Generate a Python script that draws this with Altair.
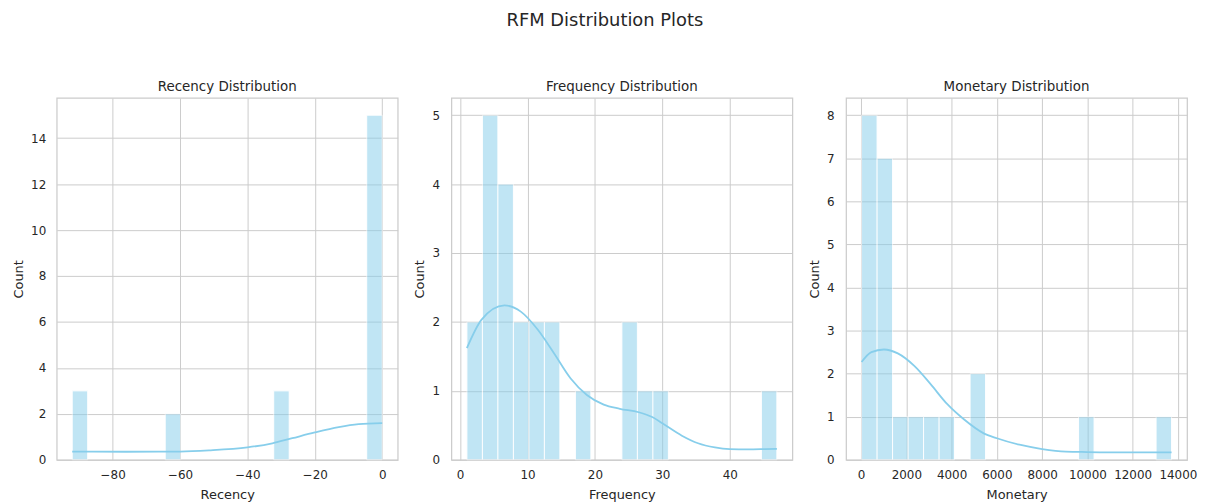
import altair as alt
import pandas as pd

# ---------------- data ----------------
# Histogram bins (20 bins each): first edge, bin width, counts
rec_start, rec_width = -92.0, 4.6
rec_counts = [3, 0, 0, 0, 0, 0, 2, 0, 0, 0, 0, 0, 0, 3, 0, 0, 0, 0, 0, 15]

freq_start, freq_width = 1.0, 2.3
freq_counts = [2, 5, 4, 2, 2, 2, 0, 1, 0, 0, 2, 1, 1, 0, 0, 0, 0, 0, 0, 1]

mon_start, mon_width = 20.0, 685.0
mon_counts = [8, 7, 1, 1, 1, 1, 0, 2, 0, 0, 0, 0, 0, 0, 1, 0, 0, 0, 0, 1]

# KDE curves (scaled to counts), read point by point
rec_kde_x = [-92, -76, -60, -51.4, -40, -32.6, -26.7, -20, -12.9, -7, 0]
rec_kde_y = [0.36, 0.35, 0.36, 0.41, 0.54, 0.72, 0.94, 1.19, 1.42, 1.55, 1.60]

freq_kde_x = [1.0, 3.15, 6.57, 9.0, 11.5, 13.9, 16.4, 18.8, 21.3, 23.7, 26.5,
              28.5, 30.0, 32.9, 35.3, 37.8, 40.0, 42.7, 45.2, 47.0]
freq_kde_y = [1.62, 2.03, 2.24, 2.15, 1.89, 1.55, 1.18, 0.94, 0.80, 0.74, 0.69,
              0.62, 0.53, 0.35, 0.24, 0.18, 0.155, 0.15, 0.155, 0.16]

mon_kde_x = [20, 455, 1007, 1620, 2350, 3080, 3810, 4540, 5400, 6000, 7000,
             8000, 9050, 10000, 12000, 13720]
mon_kde_y = [2.27, 2.50, 2.56, 2.47, 2.18, 1.75, 1.29, 0.94, 0.62, 0.50, 0.35,
             0.25, 0.19, 0.18, 0.17, 0.17]

# Axis ticks
rec_xticks = [-80, -60, -40, -20, 0]
freq_xticks = [0, 10, 20, 30, 40]
mon_xticks = [0, 2000, 4000, 6000, 8000, 10000, 12000, 14000]
rec_yticks = [0, 2, 4, 6, 8, 10, 12, 14]
freq_yticks = [0, 1, 2, 3, 4, 5]
mon_yticks = [0, 1, 2, 3, 4, 5, 6, 7, 8]

SKY = "#87CEEB"
TXT = "#262626"
GRID = "#cccccc"
FONT = "DejaVu Sans"


def hist_df(start, width, counts):
    rows = []
    for i, c in enumerate(counts):
        if c > 0:
            rows.append({"lo": start + i * width, "hi": start + (i + 1) * width, "count": c})
    return pd.DataFrame(rows)


def padded(lo, hi):
    pad = (hi - lo) * 0.05
    return [lo - pad, hi + pad]


def panel(hist, kx, ky, title, xlabel, xdomain, xticks, ymax, yticks, yext, ylabpad):
    kde = pd.DataFrame({"x": kx, "y": ky})
    xs = alt.Scale(domain=xdomain, nice=False, zero=False)
    ys = alt.Scale(domain=[0, ymax * 1.05], nice=False)
    xa = alt.Axis(values=xticks, title=xlabel, format="d")
    ya = alt.Axis(values=yticks, title="Count", format="d", minExtent=yext,
                  maxExtent=yext, labelPadding=ylabpad)
    bars = alt.Chart(hist).mark_bar(
        color=SKY, opacity=0.52, stroke="white", strokeWidth=1, strokeOpacity=1
    ).encode(
        x=alt.X("lo:Q", scale=xs, axis=xa),
        x2="hi:Q",
        y=alt.Y("count:Q", scale=ys, axis=ya),
        y2=alt.datum(0),
    )
    line = alt.Chart(kde).mark_line(color=SKY, strokeWidth=1.8, interpolate="monotone").encode(
        x=alt.X("x:Q", scale=xs, axis=xa),
        y=alt.Y("y:Q", scale=ys, axis=ya),
    )
    return alt.layer(bars, line).properties(
        width=343, height=364,
        title=alt.TitleParams(title, fontSize=13.5, offset=4, font=FONT,
                              fontWeight="normal", color=TXT),
    )


p1 = panel(hist_df(rec_start, rec_width, rec_counts), rec_kde_x, rec_kde_y,
           "Recency Distribution", "Recency",
           padded(rec_start, rec_start + 20 * rec_width), rec_xticks, 15, rec_yticks, 26, 11)
p2 = panel(hist_df(freq_start, freq_width, freq_counts), freq_kde_x, freq_kde_y,
           "Frequency Distribution", "Frequency",
           padded(freq_start, freq_start + 20 * freq_width), freq_xticks, 5, freq_yticks, 20, 12)
p3 = panel(hist_df(mon_start, mon_width, mon_counts), mon_kde_x, mon_kde_y,
           "Monetary Distribution", "Monetary",
           padded(mon_start, mon_start + 20 * mon_width), mon_xticks, 8, mon_yticks, 20, 12)

chart = alt.hconcat(p1, p2, p3, spacing=14).properties(
    title=alt.TitleParams("RFM Distribution Plots", fontSize=18, font=FONT,
                          fontWeight="normal", color=TXT, anchor="middle", offset=50),
    padding={"left": 4, "top": 2, "right": 0, "bottom": 0},
).configure_axis(
    labelFont=FONT, titleFont=FONT, labelFontSize=12, titleFontSize=13,
    labelColor=TXT, titleColor=TXT, titleFontWeight="normal",
    tickSize=0, domain=False, grid=True, gridColor=GRID, gridWidth=1,
).configure_axisY(titlePadding=5).configure_axisX(titlePadding=8, labelPadding=10).configure_view(
    stroke=GRID, strokeWidth=1.25
)

chart.save("out.html", embed_options={"renderer": "svg", "actions": False})
